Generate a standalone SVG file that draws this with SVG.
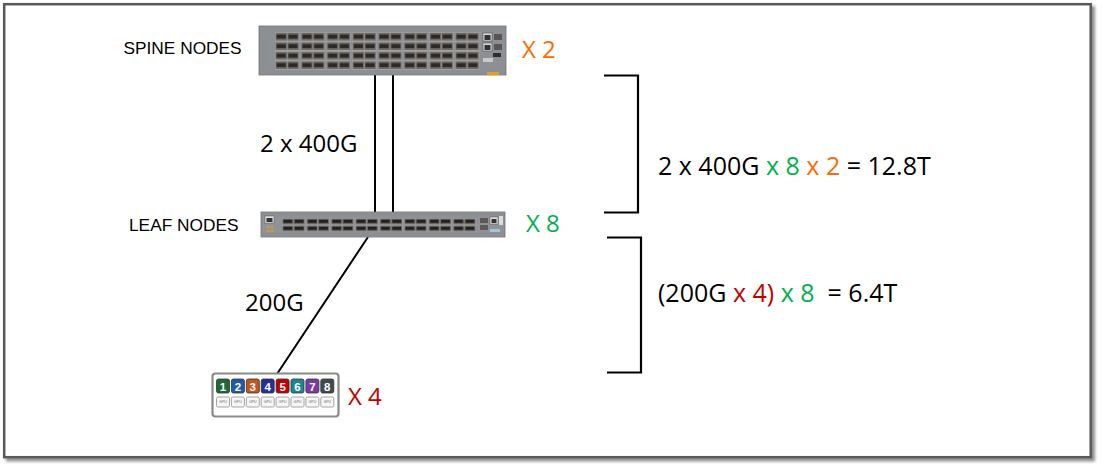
<svg xmlns="http://www.w3.org/2000/svg" width="1102" height="469" viewBox="0 0 1102 469">
<defs>
<style>
.lbl{font-family:"Liberation Sans",Arial,sans-serif;font-size:17.3px;fill:#000}
.big{font-family:"Open Sans","Liberation Sans",sans-serif;font-size:24px;fill:#000}
.eq{font-family:"Open Sans","Liberation Sans",sans-serif;font-size:25px;fill:#000}
.or{fill:#FF6A00}.gr{fill:#00B050}.rd{fill:#C00000}
.wire{stroke:#000;stroke-width:2;fill:none}
.brk{stroke:#000;stroke-width:2.2;fill:none}
.num{font-family:"Liberation Sans",Arial,sans-serif;font-size:11.5px;font-weight:bold;fill:#fff;text-anchor:middle}
.gpu{font-family:"Liberation Sans",Arial,sans-serif;font-size:3.6px;fill:#666;text-anchor:middle}
.gbox{fill:#f6f6f6;stroke:#9a9a9a;stroke-width:0.9}
</style>
<pattern id="perf" patternUnits="userSpaceOnUse" width="2" height="2">
<rect width="2" height="2" fill="#9a9da2"/>
<rect x="0.5" y="0.5" width="1" height="1" fill="#5f6166"/>
</pattern>
<pattern id="spinePorts" patternUnits="userSpaceOnUse" x="275" y="32" width="25.7" height="9.5">
<rect x="0" y="0" width="24.2" height="9.5" fill="#a3a5a8"/>
<rect x="0.6" y="0.8" width="11.2" height="7.8" fill="#6f6963"/>
<rect x="1.6" y="2.6" width="9.2" height="4" fill="#2b2927"/>
<rect x="12.4" y="0.8" width="11.2" height="7.8" fill="#6f6963"/>
<rect x="13.4" y="2.6" width="9.2" height="4" fill="#2b2927"/>
</pattern>
<pattern id="leafPorts" patternUnits="userSpaceOnUse" x="282" y="218" width="24.4" height="7">
<rect x="0" y="0" width="23" height="7" fill="#a5a7aa"/>
<rect x="0.5" y="0.6" width="10.7" height="5.8" fill="#6a6560"/>
<rect x="1.4" y="1.8" width="8.9" height="3" fill="#232120"/>
<rect x="11.8" y="0.6" width="10.7" height="5.8" fill="#6a6560"/>
<rect x="12.7" y="1.8" width="8.9" height="3" fill="#232120"/>
</pattern>
<filter id="sh" x="-5%" y="-5%" width="110%" height="110%">
<feGaussianBlur in="SourceAlpha" stdDeviation="1.6"/>
<feOffset dx="3" dy="3"/>
<feComponentTransfer><feFuncA type="linear" slope="0.45"/></feComponentTransfer>
<feMerge><feMergeNode/><feMergeNode in="SourceGraphic"/></feMerge>
</filter>
</defs>

<rect x="0" y="0" width="1102" height="469" fill="#fff"/>
<rect id="frame" x="4.2" y="4.2" width="1086.5" height="453" fill="#fff" stroke="#595959" stroke-width="2.5" filter="url(#sh)"/>

<g id="connectors">
<line class="wire" x1="375" y1="75" x2="375" y2="213"/>
<line class="wire" x1="393" y1="75" x2="393" y2="213"/>
<line class="wire" x1="368" y1="237" x2="277" y2="374"/>
</g>

<g id="spine">
<rect x="259" y="26" width="247" height="49" fill="#8c8f94" stroke="#6d7075" stroke-width="0.8"/>
<rect x="262" y="26.5" width="241" height="4.5" fill="url(#perf)"/>
<rect x="262" y="70" width="241" height="4.5" fill="url(#perf)"/>
<rect x="261" y="40" width="6" height="28" fill="url(#perf)"/>
<rect x="275" y="32" width="206" height="38" fill="url(#spinePorts)"/>
<rect x="483" y="33" width="9" height="8" fill="#d8d8d8" stroke="#555" stroke-width="0.6"/>
<rect x="484.5" y="35" width="6" height="5" fill="#333"/>
<rect x="483" y="43" width="9" height="8" fill="#d8d8d8" stroke="#555" stroke-width="0.6"/>
<rect x="484.5" y="45" width="6" height="5" fill="#333"/>
<rect x="494" y="34" width="8" height="6" fill="#5a5551"/>
<rect x="494" y="44" width="8" height="6" fill="#5a5551"/>
<rect x="493" y="53" width="8" height="4" fill="#2e2e2e"/>
<rect x="483" y="58" width="10" height="4" fill="#c9c9c9"/>
<rect x="487" y="72" width="12" height="3" fill="#e0a020"/>
<text class="lbl" x="123.5" y="53.5">SPINE NODES</text>
<text class="big or" x="522" y="57.5">X 2</text>
</g>

<g id="leaf">
<rect x="261" y="212" width="244" height="25" fill="#8f9297" stroke="#6e7176" stroke-width="0.8"/>
<rect x="263" y="212.5" width="240" height="4" fill="url(#perf)"/>
<rect x="263" y="232.5" width="240" height="4" fill="url(#perf)"/>
<rect x="265" y="216" width="9" height="7" fill="#e2e2e2" stroke="#555" stroke-width="0.5"/>
<rect x="266.5" y="218" width="6" height="4" fill="#333"/>
<circle cx="268" cy="227" r="1.6" fill="#c89a4a"/>
<circle cx="272" cy="227" r="1.6" fill="#c89a4a"/>
<circle cx="268" cy="231" r="1.6" fill="#c89a4a"/>
<circle cx="272" cy="231" r="1.6" fill="#c89a4a"/>
<rect x="282" y="218" width="196" height="14" fill="url(#leafPorts)"/>
<rect x="480" y="218" width="8" height="5" fill="#5e5955"/>
<rect x="480" y="225" width="8" height="5" fill="#5e5955"/>
<rect x="490" y="217" width="8" height="7" fill="#e0e0e0" stroke="#555" stroke-width="0.5"/>
<rect x="491.5" y="219" width="5" height="4" fill="#333"/>
<rect x="499" y="216" width="4" height="9" fill="#ddd"/>
<rect x="490" y="229" width="10" height="3" fill="#9fc7d8"/>
<text class="lbl" x="129" y="230.5">LEAF NODES</text>
<text class="big gr" x="526" y="232">X 8</text>
</g>

<g id="gpu-server">
<rect x="212.5" y="373.5" width="126" height="43" rx="3" fill="#fff" stroke="#8a8a8a" stroke-width="2.2"/>
<g stroke="#333" stroke-width="0.8">
<rect x="216.5" y="379" width="13" height="14" rx="2" fill="#1d6a37"/>
<rect x="231.4" y="379" width="13" height="14" rx="2" fill="#1f5aa6"/>
<rect x="246.3" y="379" width="13" height="14" rx="2" fill="#c2561c"/>
<rect x="261.2" y="379" width="13" height="14" rx="2" fill="#23309a"/>
<rect x="276.1" y="379" width="13" height="14" rx="2" fill="#c00000"/>
<rect x="291" y="379" width="13" height="14" rx="2" fill="#17889a"/>
<rect x="305.9" y="379" width="13" height="14" rx="2" fill="#7b3aa3"/>
<rect x="320.8" y="379" width="13" height="14" rx="2" fill="#3f4b52"/>
</g>
<text class="num" x="223" y="390.5">1</text>
<text class="num" x="237.9" y="390.5">2</text>
<text class="num" x="252.8" y="390.5">3</text>
<text class="num" x="267.7" y="390.5">4</text>
<text class="num" x="282.6" y="390.5">5</text>
<text class="num" x="297.5" y="390.5">6</text>
<text class="num" x="312.4" y="390.5">7</text>
<text class="num" x="327.3" y="390.5">8</text>
<rect class="gbox" x="216.5" y="397" width="13" height="10" rx="1.5"/>
<rect class="gbox" x="231.4" y="397" width="13" height="10" rx="1.5"/>
<rect class="gbox" x="246.3" y="397" width="13" height="10" rx="1.5"/>
<rect class="gbox" x="261.2" y="397" width="13" height="10" rx="1.5"/>
<rect class="gbox" x="276.1" y="397" width="13" height="10" rx="1.5"/>
<rect class="gbox" x="291" y="397" width="13" height="10" rx="1.5"/>
<rect class="gbox" x="305.9" y="397" width="13" height="10" rx="1.5"/>
<rect class="gbox" x="320.8" y="397" width="13" height="10" rx="1.5"/>
<text class="gpu" x="223" y="403.3">GPU</text>
<text class="gpu" x="237.9" y="403.3">GPU</text>
<text class="gpu" x="252.8" y="403.3">GPU</text>
<text class="gpu" x="267.7" y="403.3">GPU</text>
<text class="gpu" x="282.6" y="403.3">GPU</text>
<text class="gpu" x="297.5" y="403.3">GPU</text>
<text class="gpu" x="312.4" y="403.3">GPU</text>
<text class="gpu" x="327.3" y="403.3">GPU</text>
<text class="big rd" x="348" y="404.5">X 4</text>
</g>

<g id="link-labels">
<text class="big" x="260" y="151.5">2 x 400G</text>
<text class="big" x="245" y="311">200G</text>
</g>

<g id="bracket-spine">
<polyline class="brk" points="604,75.5 638,75.5 638,212.5 604,212.5"/>
<text class="eq" x="658" y="175">2 x 400G <tspan class="gr">x 8</tspan> <tspan class="or">x 2</tspan> = 12.8T</text>
</g>

<g id="bracket-leaf">
<polyline class="brk" points="607,237.5 641,237.5 641,372.5 607,372.5"/>
<text class="eq" x="658" y="302" xml:space="preserve">(200G <tspan class="rd">x 4)</tspan> <tspan class="gr">x 8</tspan>  = 6.4T</text>
</g>
</svg>
